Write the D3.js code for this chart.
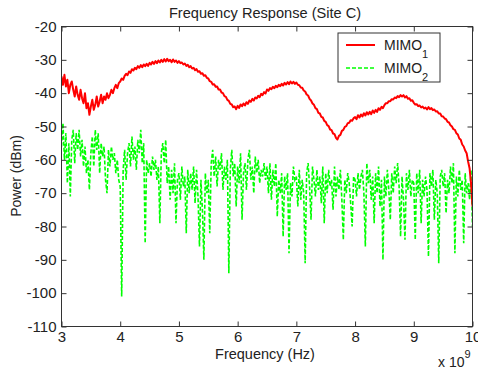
<!DOCTYPE html>
<html>
<head>
<meta charset="utf-8">
<script src="https://cdn.jsdelivr.net/npm/d3@7"></script>
<style>
  body { margin: 0; background: #fff; }
  svg { display: block; font-family: "Liberation Sans", Arial, sans-serif; }
</style>
</head>
<body>
<svg id="chart" width="478" height="371"></svg>
<script>
// frequency grid (GHz) for both traces
const freqStart = 3, freqStep = 0.025;

// MIMO1, every 0.025 GHz
const mimo1 = [
  -35, -37.5, -34.5, -38, -36, -40, -37.5, -36.5, -39, -41, -38, -40.5, -42, -39, -41.5, -43, -40, -44.5, -43, -46.5,
  -44, -42, -45, -43.5, -41, -44, -42.5, -40.5, -43, -41, -42, -40, -41.5, -40.5, -39, -40, -38.5, -37.5, -38.5, -37,
  -36.5, -35.6, -36, -34.8, -34.2, -34.6, -33.5, -33.9, -32.8, -33.2, -32.4, -32.8, -31.9, -32.4, -31.6, -32.2, -31.4, -31.9, -31.2, -31.8,
  -30.9, -31.4, -30.6, -31.2, -30.4, -31, -30.2, -30.8, -30, -30.6, -29.8, -30.5, -29.7, -30.4, -30, -30.7, -29.9, -30.6, -30.2, -30.9,
  -30.4, -31, -30.8, -31.4, -31.1, -31.8, -31.5, -32.2, -31.9, -32.6, -32.4, -33.1, -32.8, -33.6, -33.4, -34.2, -34, -34.8, -34.6, -35.4,
  -35.6, -36.4, -36.6, -37.4, -37.3, -38.1, -38, -38.9, -38.9, -39.8, -40, -40.9, -41.1, -42, -42.3, -43.2, -43.4, -44.2, -44, -44.8,
  -43.8, -44.4, -43.4, -43.9, -43.1, -43.7, -42.7, -43.2, -42.2, -42.6, -41.7, -42.2, -41.3, -41.6, -40.8, -41.2, -40.2, -40.6, -39.7, -40.1,
  -38.9, -39.3, -38.5, -38.8, -38.1, -38.5, -37.8, -38.2, -37.5, -37.9, -37.2, -37.7, -36.9, -37.4, -36.7, -37.3, -36.5, -37.1, -36.6, -37.2,
  -36.8, -37.5, -37.6, -38.3, -38.4, -39.2, -39.5, -40.4, -40.7, -41.7, -42.2, -43.1, -43.5, -44.5, -44.8, -45.9, -46.1, -47.1, -47.3, -48.3,
  -48.6, -49.6, -49.9, -50.9, -51.1, -52.1, -52.3, -53.4, -53.9, -52.8, -52.5, -51.3, -51, -50.1, -49.9, -49, -48.9, -48.1, -48.3, -47.5,
  -47.2, -47.8, -46.6, -47.3, -46.4, -47, -46, -46.7, -45.7, -46.4, -45.6, -46.3, -45.2, -45.9, -45, -45.6, -44.5, -45, -44.1, -44.5,
  -43.6, -43, -43, -42.4, -42.4, -41.8, -41.9, -41.3, -41.5, -40.9, -41.2, -40.6, -41, -40.6, -41.3, -40.9, -41.7, -41.5, -42.3, -42.1,
  -42.9, -43.4, -43.3, -43.9, -43.7, -44.3, -44, -44.6, -44.3, -44.9, -44.2, -44.8, -44.5, -45.1, -44.9, -45.5, -45.4, -46.1, -46.1, -46.9,
  -47, -47.6, -47.8, -48.6, -48.8, -49.6, -50, -50.8, -51, -52, -52.4, -53.6, -54, -55.4, -56, -57.2, -58, -60.5, -62.5, -67,
  -74
];

// MIMO2, every 0.025 GHz
const mimo2 = [
  -56, -49, -60, -52, -67, -55, -71, -54, -51, -61, -52, -57, -51, -59, -54, -62, -56, -64, -60, -69,
  -58, -53, -62, -51, -57, -52, -64, -55, -59, -56, -66, -70, -57, -62, -56, -60, -58, -64, -60, -66,
  -68, -101, -63, -57, -66, -58, -55, -62, -53, -60, -56, -63, -54, -58, -51, -61, -55, -85, -60, -64,
  -61, -65, -59, -63, -60, -66, -62, -79, -58, -55, -61, -54, -67, -62, -72, -63, -70, -61, -79, -66,
  -64, -72, -62, -68, -65, -82, -63, -70, -64, -69, -62, -73, -63, -71, -86, -66, -75, -90, -64, -70,
  -66, -82, -61, -57, -65, -59, -68, -60, -63, -58, -69, -62, -66, -60, -94, -63, -57, -65, -61, -74,
  -62, -67, -58, -78, -64, -61, -69, -60, -57, -66, -62, -70, -59, -64, -60, -67, -63, -65, -61, -66,
  -62, -70, -61, -72, -63, -68, -61, -77, -66, -70, -64, -83, -65, -69, -64, -88, -67, -71, -62, -66,
  -65, -74, -63, -72, -66, -70, -91, -64, -61, -68, -78, -62, -66, -71, -63, -69, -65, -73, -62, -79,
  -64, -70, -63, -68, -66, -75, -62, -71, -65, -69, -63, -72, -84, -66, -70, -64, -67, -73, -80, -65,
  -66, -71, -64, -69, -65, -63, -70, -86, -61, -67, -63, -72, -65, -79, -64, -70, -62, -74, -66, -90,
  -65, -71, -63, -69, -78, -64, -70, -62, -67, -61, -68, -83, -65, -72, -84, -64, -69, -63, -71, -66,
  -67, -84, -64, -70, -63, -79, -66, -71, -65, -69, -89, -64, -68, -63, -78, -66, -70, -91, -65, -63,
  -68, -64, -76, -66, -70, -62, -67, -61, -88, -65, -71, -63, -69, -66, -85, -64, -70, -67, -72, -63,
  -80
];

const xTicks = [3, 4, 5, 6, 7, 8, 9, 10];
const yTicks = [-20, -30, -40, -50, -60, -70, -80, -90, -100, -110];

const svg = d3.select('#chart');

const plotLeft = 61.5, plotRight = 472.5, plotTop = 26.5, plotBottom = 326.5;
const w = plotRight - plotLeft, h = plotBottom - plotTop;

const x = d3.scaleLinear().domain([3, 10]).range([0, w]);
const y = d3.scaleLinear().domain([-110, -20]).range([h, 0]);

svg.append('rect').attr('width', 478).attr('height', 371).attr('fill', '#fff');

const g = svg.append('g').attr('transform', `translate(${plotLeft},${plotTop})`);

g.append('clipPath').attr('id', 'clip')
  .append('rect').attr('width', w).attr('height', h);

const line = d3.line()
  .x(d => x(d[0]))
  .y(d => y(d[1]));

const redPts = mimo1.map((v, i) => [freqStart + i * freqStep, v]);
const greenPts = mimo2.map((v, i) => [freqStart + i * freqStep, v]);

const plot = g.append('g').attr('clip-path', 'url(#clip)');

plot.append('path')
  .datum(greenPts)
  .attr('d', line)
  .attr('fill', 'none')
  .attr('stroke', '#00ff00')
  .attr('stroke-width', 1.6)
  .attr('stroke-dasharray', '4,2');

plot.append('path')
  .datum(redPts)
  .attr('d', line)
  .attr('fill', 'none')
  .attr('stroke', '#ff0000')
  .attr('stroke-width', 2)
  .attr('stroke-linejoin', 'round');

// axes, matlab style: ticks inside on all four sides
const axisColor = '#333';
const fontSize = 15;
const plain = d => String(d);   // keep the ascii hyphen as minus

const xAxis = g.append('g').attr('transform', `translate(0,${h})`)
  .call(d3.axisBottom(x).tickValues(xTicks).tickSize(-5).tickPadding(5).tickFormat(plain));
const xTop = g.append('g')
  .call(d3.axisTop(x).tickValues(xTicks).tickSize(-5).tickFormat(''));
const yAxis = g.append('g')
  .call(d3.axisLeft(y).tickValues(yTicks).tickSize(-5).tickPadding(5).tickFormat(plain));
const yRight = g.append('g').attr('transform', `translate(${w},0)`)
  .call(d3.axisRight(y).tickValues(yTicks).tickSize(-5).tickFormat(''));

[xAxis, xTop, yAxis, yRight].forEach(a => {
  a.select('.domain').remove();
  a.selectAll('line').attr('stroke', axisColor);
  a.selectAll('text').attr('fill', '#222').style('font-size', fontSize + 'px')
    .style('font-family', '"Liberation Sans", Arial, sans-serif');
});

g.append('rect')
  .attr('width', w).attr('height', h)
  .attr('fill', 'none')
  .attr('stroke', axisColor)
  .attr('stroke-width', 1);

// titles
svg.append('text')
  .attr('x', 265).attr('y', 18)
  .attr('text-anchor', 'middle')
  .style('font-size', '14.6px')
  .attr('fill', '#222')
  .text('Frequency Response (Site C)');

svg.append('text')
  .attr('x', 265).attr('y', 359)
  .attr('text-anchor', 'middle')
  .style('font-size', '14.5px')
  .attr('fill', '#222')
  .text('Frequency (Hz)');

svg.append('text')
  .attr('transform', 'translate(21,176) rotate(-90)')
  .attr('text-anchor', 'middle')
  .style('font-size', '14px')
  .attr('fill', '#222')
  .text('Power (dBm)');

const expo = svg.append('text')
  .attr('x', 438).attr('y', 367)
  .style('font-size', '14px')
  .attr('fill', '#222');
expo.append('tspan').text('x 10');
expo.append('tspan').attr('dy', -9).style('font-size', '11px').text('9');

// legend
const lg = svg.append('g').attr('transform', 'translate(338,33)');
lg.append('rect')
  .attr('width', 102).attr('height', 49)
  .attr('fill', '#fff').attr('stroke', axisColor);

const entries = [
  { name: 'MIMO', sub: '1', color: '#ff0000', dash: null, width: 2 },
  { name: 'MIMO', sub: '2', color: '#00ff00', dash: '4,2', width: 1.6 }
];
entries.forEach((e, i) => {
  const cy = 12 + i * 23;
  lg.append('line')
    .attr('x1', 8).attr('x2', 37)
    .attr('y1', cy).attr('y2', cy)
    .attr('stroke', e.color)
    .attr('stroke-width', e.width)
    .attr('stroke-dasharray', e.dash);
  const t = lg.append('text')
    .attr('x', 46).attr('y', cy + 5)
    .style('font-size', '14px')
    .attr('fill', '#222');
  t.append('tspan').text(e.name);
  t.append('tspan').attr('dy', 8).style('font-size', '11px').text(e.sub);
});
</script>
</body>
</html>
